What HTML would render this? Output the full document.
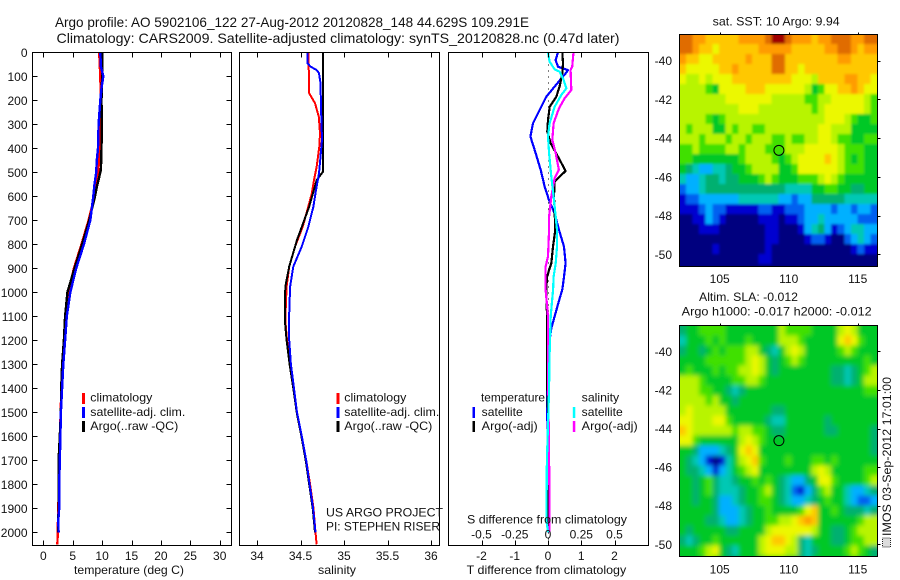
<!DOCTYPE html>
<html>
<head>
<meta charset="utf-8">
<title>Argo profile</title>
<style>
html,body{margin:0;padding:0;background:#fff;}
svg{display:block;}
text{font-family:"Liberation Sans",sans-serif;font-size:12px;fill:#111;}
</style>
</head>
<body>
<svg id="chart" xmlns="http://www.w3.org/2000/svg" width="900" height="580" viewBox="0 0 900 580">
<defs>
<filter id="sst-soften" x="-10%" y="-10%" width="120%" height="120%"><feGaussianBlur stdDeviation="1.2"/></filter>
<filter id="sla-soften" x="-10%" y="-10%" width="120%" height="120%"><feGaussianBlur stdDeviation="2.4"/></filter>
<clipPath id="sst-clip"><rect x="679.5" y="34.5" width="198" height="232"/></clipPath>
<clipPath id="sla-clip"><rect x="679.5" y="325.5" width="198" height="231"/></clipPath>
</defs>
<rect x="0" y="0" width="900" height="580" fill="#fff"/>
<g>
<text x="55" y="27" style="font-size:14px" textLength="474" lengthAdjust="spacingAndGlyphs">Argo profile: AO 5902106_122 27-Aug-2012 20120828_148 44.629S 109.291E</text>
<text x="56.5" y="43" style="font-size:14px" textLength="563" lengthAdjust="spacingAndGlyphs">Climatology: CARS2009. Satellite-adjusted climatology: synTS_20120828.nc (0.47d later)</text>
</g>
<g id="plots"></g>
<g>
<text x="74" y="574" textLength="110" lengthAdjust="spacingAndGlyphs">temperature (deg C)</text>
<text x="318" y="574" textLength="38" lengthAdjust="spacingAndGlyphs">salinity</text>
<text x="466.7" y="574" textLength="159.5" lengthAdjust="spacingAndGlyphs">T difference from climatology</text>
<text x="467" y="523.3" textLength="160" lengthAdjust="spacingAndGlyphs">S difference from climatology</text>
</g>
<g>
<rect x="82" y="393" width="3" height="11" fill="#f00"/>
<text x="90.3" y="401.7" textLength="62" lengthAdjust="spacingAndGlyphs">climatology</text>
<rect x="82" y="407" width="3" height="11" fill="#00f"/>
<text x="90.3" y="416" textLength="95" lengthAdjust="spacingAndGlyphs">satellite-adj. clim.</text>
<rect x="82" y="421" width="3" height="11" fill="#000"/>
<text x="90.3" y="430" textLength="88" lengthAdjust="spacingAndGlyphs">Argo(..raw -QC)</text>
</g>
<g>
<rect x="336.5" y="393" width="3" height="11" fill="#f00"/>
<text x="344.3" y="401.7" textLength="62" lengthAdjust="spacingAndGlyphs">climatology</text>
<rect x="336.5" y="407" width="3" height="11" fill="#00f"/>
<text x="344.3" y="416" textLength="95" lengthAdjust="spacingAndGlyphs">satellite-adj. clim.</text>
<rect x="336.5" y="421" width="3" height="11" fill="#000"/>
<text x="344.3" y="430" textLength="88" lengthAdjust="spacingAndGlyphs">Argo(..raw -QC)</text>
<text x="326" y="516.7" textLength="117" lengthAdjust="spacingAndGlyphs">US ARGO PROJECT</text>
<text x="326" y="530.7" textLength="114" lengthAdjust="spacingAndGlyphs">PI: STEPHEN RISER</text>
</g>
<g>
<text x="481" y="401.7" textLength="64" lengthAdjust="spacingAndGlyphs">temperature</text>
<rect x="472.5" y="407" width="2.5" height="11" fill="#00f"/>
<text x="481.7" y="416" textLength="41" lengthAdjust="spacingAndGlyphs">satellite</text>
<rect x="472.5" y="421" width="2.5" height="11" fill="#000"/>
<text x="481.7" y="430" textLength="56" lengthAdjust="spacingAndGlyphs">Argo(-adj)</text>
<text x="581.7" y="401.7" textLength="37.5" lengthAdjust="spacingAndGlyphs">salinity</text>
<rect x="572.8" y="407" width="2.5" height="11" fill="#0ff"/>
<text x="581.7" y="416" textLength="41" lengthAdjust="spacingAndGlyphs">satellite</text>
<rect x="572.8" y="421" width="2.5" height="11" fill="#f0f"/>
<text x="581.7" y="430" textLength="56" lengthAdjust="spacingAndGlyphs">Argo(-adj)</text>
</g>
<g>
<text x="712.7" y="25.7" textLength="127" lengthAdjust="spacingAndGlyphs">sat. SST: 10 Argo: 9.94</text>
<text x="699" y="301" textLength="99" lengthAdjust="spacingAndGlyphs">Altim. SLA: -0.012</text>
<text x="681.7" y="315.7" textLength="190" lengthAdjust="spacingAndGlyphs">Argo h1000: -0.017 h2000: -0.012</text>
</g>
<g>
<rect x="882.5" y="538" width="8" height="9" fill="#ddd" stroke="#222" stroke-width="1" stroke-dasharray="1 1"/>
<text transform="translate(891 536) rotate(-90)" x="0" y="0" textLength="159" lengthAdjust="spacingAndGlyphs">IMOS 03-Sep-2012 17:01:00</text>
</g>
</svg>
<script>
// ---------- profile data ----------
const tempClimDepth = [0,100,200,300,400,500,550,600,700,800,900,1000,1100,1200,1300,1400,1500,1600,1700,1800,1900,2000,2050];
const tempClimValue = [9.5,9.7,9.8,9.8,9.7,9.3,9.0,8.7,7.7,6.5,5.2,4.3,3.9,3.6,3.3,3.1,2.95,2.85,2.75,2.65,2.55,2.45,2.4];
const tempArgoDepth = [0,100,200,300,400,490,520,550,600,700,800,900,1000,1100,1200,1300,1400,1500,1600,1700,1800,1900,2000];
const tempArgoValue = [10,10,9.9,9.95,9.9,9.8,9.5,9.2,8.8,7.8,6.6,5.3,4.1,3.7,3.5,3.2,3.05,3.0,2.8,2.6,2.65,2.6,2.5];
const tempSatDepth = [0,60,100,150,200,300,400,450,500,550,600,700,800,900,1000,1100,1200,1300,1400,1500,1600,1700,1800,1900,1950,2000];
const tempSatValue = [9.7,9.8,10.2,9.9,9.7,9.4,9.3,9.1,9.0,8.7,8.5,8.0,6.9,5.6,4.6,4.0,3.7,3.4,3.2,3.0,2.9,2.8,2.7,2.7,2.55,2.6];

const salClimDepth = [0,60,87,171,212,268,337,393,476,532,588,643,727,810,893,977,1115,1200,1300,1400,1500,1600,1700,1800,1900,2000,2050];
const salClimValue = [34.59,34.59,34.6,34.6,34.667,34.71,34.724,34.716,34.686,34.655,34.63,34.59,34.525,34.437,34.37,34.34,34.325,34.345,34.38,34.42,34.46,34.515,34.565,34.61,34.65,34.672,34.685];
const salArgoDepth = [0,497,532,643,782,893,977,1115,1200,1300,1400,1500,1600,1700,1800,1900,2000];
const salArgoValue = [34.76,34.76,34.686,34.6,34.46,34.37,34.325,34.32,34.34,34.375,34.417,34.456,34.51,34.56,34.6,34.64,34.667];
const salSatDepth = [0,46,60,74,87,129,227,365,435,504,574,643,727,810,893,977,1115,1200,1300,1400,1500,1600,1700,1800,1900,2000];
const salSatValue = [34.58,34.58,34.617,34.686,34.713,34.73,34.736,34.747,34.73,34.713,34.678,34.648,34.59,34.514,34.417,34.38,34.368,34.37,34.39,34.425,34.46,34.515,34.565,34.605,34.645,34.672];

const diffTSatDepth = [0,32,60,74,88,109,143,185,254,296,351,421,490,560,616,671,740,810,879,949,988,1050,1150,1250,1400,1500,1600,1800,2000];
const diffTSatValue = [0.3,0.23,0.3,0.6,0.53,0.4,0.2,-0.05,-0.3,-0.45,-0.53,-0.37,-0.22,-0.1,0.03,0.2,0.33,0.48,0.53,0.47,0.43,0.3,0.1,0,-0.03,-0.03,0,0.02,0.02];
const diffTArgoDepth = [0,46,88,143,185,227,282,331,379,435,494,539,601,657,740,810,879,935,988,1100,1200,1300,1400,1500,1700,2000];
const diffTArgoValue = [0.43,0.45,0.43,0.35,0.25,0.05,0,-0.02,0.08,0.3,0.53,0.2,0.18,0.2,0.22,0.15,0.1,-0.03,-0.05,-0.03,-0.03,-0.03,-0.02,0,0.02,0.02];
const diffSSatDepth = [0,39,71,81,116,150,178,227,296,351,421,518,601,685,740,810,879,935,988,1100,1300,1400,1700,1950,2000];
const diffSSatValue = [0,0.012,0.05,0.088,0.118,0.138,0.1,0.05,0.012,0,0.008,0.025,0.042,0.058,0.068,0.068,0.058,0.042,0.038,0.02,0.01,0.008,-0.008,-0.012,0];
const diffSArgoDepth = [0,60,74,157,192,234,296,365,421,490,525,601,685,740,851,893,988,1100,1300,1700,1900,2000];
const diffSArgoValue = [0.192,0.182,0.17,0.175,0.125,0.082,0.042,0.032,0.058,0.082,0.05,0.025,0.008,0.008,0,-0.018,-0.018,0,0,0.008,0.012,0.012];

// ---------- tick labels ----------
const depthTicks = [0,100,200,300,400,500,600,700,800,900,1000,1100,1200,1300,1400,1500,1600,1700,1800,1900,2000];
const tempTicks = [0,5,10,15,20,25,30];
const salTicks = [34,34.5,35,35.5,36];
const diffTTicks = [-2,-1,0,1,2];
const diffSTicks = [-0.5,-0.25,0,0.25,0.5];
const lonTicks = [105,110,115];
const latTicks = [-40,-42,-44,-46,-48,-50];
const argoLon = [109.291];
const argoLat = [-44.629];

// ---------- map colour classes ----------
const colourClasses = ['#00007f','#0000d0','#0060f0','#00b0ff','#00c8b4','#00b070','#00c828','#40e000','#b8f400','#ecf800','#ffc800','#ff9c00','#e06c00','#a00000'];
const sstGrid = [
[12,12,11,11,10,10,10,10,10,11,11,11,11,12,13,13,12,11,11,11,10,11,11,12,12,12,11,11,12,12],
[12,12,11,10,10,9,10,10,10,10,10,10,11,11,11,11,11,10,10,10,10,10,11,11,12,12,11,10,11,11],
[11,10,10,9,9,10,10,10,10,10,11,10,10,10,12,12,10,10,10,10,10,10,10,10,11,11,10,10,10,10],
[10,9,9,9,9,9,10,10,11,10,10,10,10,10,12,12,10,10,9,10,10,10,10,10,10,10,10,10,10,10],
[9,8,8,9,8,9,9,9,10,10,10,10,10,10,10,10,10,9,9,9,8,10,10,10,10,11,11,10,10,9],
[8,8,8,8,7,6,9,9,9,9,10,10,10,9,9,9,9,9,9,8,6,7,9,9,10,10,11,10,9,9],
[8,8,8,8,8,8,8,9,9,9,9,9,9,9,8,8,8,8,8,7,7,8,8,9,9,9,9,9,8,7],
[8,8,8,8,8,8,8,8,8,9,9,9,8,8,8,8,8,8,8,8,7,8,9,9,9,9,9,9,8,7],
[8,8,8,8,7,6,7,8,8,8,8,8,8,8,8,8,8,8,8,8,8,8,9,9,9,8,7,6,6,7],
[8,7,8,8,8,6,6,8,7,8,8,7,7,8,8,8,8,8,8,8,8,9,9,8,8,8,6,6,6,6],
[8,8,8,7,8,8,8,7,8,8,7,8,8,8,7,7,8,7,7,8,8,9,9,8,7,7,6,6,7,7],
[7,7,8,7,7,7,7,8,8,7,8,8,8,7,7,7,8,8,8,9,9,9,9,9,8,7,7,7,6,6],
[7,7,6,6,6,6,6,6,6,7,8,8,8,8,7,6,7,8,9,9,9,9,10,9,8,7,6,7,6,6],
[6,5,4,3,3,4,4,5,6,6,7,8,8,8,8,6,6,7,9,9,9,9,9,9,8,7,7,7,6,6],
[4,3,3,4,5,5,4,5,5,6,6,6,7,8,7,6,6,6,7,7,7,8,9,8,7,6,6,6,6,6],
[2,3,3,4,5,5,5,5,5,5,5,5,5,5,5,5,4,4,4,4,6,6,7,7,6,6,5,5,6,6],
[1,2,2,3,3,3,3,3,3,4,4,4,4,4,4,3,3,2,3,3,5,5,5,5,5,4,4,4,4,4],
[1,1,1,2,3,2,2,1,1,1,1,1,2,2,1,1,2,2,2,3,3,3,3,2,3,3,2,3,3,2],
[0,0,1,1,3,2,1,0,0,0,0,0,1,1,1,0,1,1,2,3,3,4,3,3,3,3,3,2,2,2],
[0,0,0,1,1,1,0,0,0,0,0,0,0,1,1,0,0,0,1,3,4,5,3,1,2,3,4,4,3,3],
[0,0,0,0,0,0,0,0,0,0,0,0,0,1,1,0,0,0,0,1,2,2,1,0,0,2,3,4,3,2],
[0,0,0,0,0,1,0,0,0,0,0,0,0,1,0,0,0,0,0,0,0,0,0,0,0,0,1,2,1,1],
[0,0,0,0,0,0,0,0,0,0,0,0,1,1,0,0,0,0,0,0,0,0,0,0,0,0,0,0,0,0],
[0,0,0,0,0,0,0,0,0,0,0,0,0,0,0,0,0,0,0,0,0,0,0,0,0,0,0,0,0,0]
];
const slaGrid = [
[5,6,6,7,7,7,7,6,6,6,6,6,6,6,6,8,7,7,7,7,6,6,6,6,8,9,8,6,6,6],
[4,6,6,6,7,6,7,6,6,6,7,6,6,6,6,8,8,8,7,6,6,6,6,6,9,10,9,7,6,6],
[5,6,6,5,6,7,6,7,7,7,8,8,6,5,4,6,8,9,8,6,6,6,6,6,7,8,7,6,6,6],
[6,6,6,6,7,7,7,7,7,7,8,9,8,6,5,6,7,8,7,6,6,6,6,6,6,6,6,6,7,6],
[6,7,6,6,6,7,6,7,7,8,8,9,8,6,5,6,6,6,6,6,6,6,6,5,5,4,5,6,7,8],
[8,8,8,7,6,6,6,6,7,7,8,8,7,6,6,6,6,6,6,6,6,6,6,5,5,4,5,6,8,8],
[8,8,8,7,7,6,6,5,4,5,6,6,6,6,6,6,6,6,6,6,6,6,6,6,6,6,6,6,7,7],
[8,8,8,8,7,8,6,6,5,6,6,6,6,6,6,6,6,6,6,6,6,6,6,6,6,6,6,6,6,6],
[8,9,8,8,8,8,8,6,6,6,6,6,6,6,5,5,6,6,6,6,6,6,6,6,6,6,6,6,6,6],
[9,9,8,8,8,9,9,7,6,6,6,6,6,5,4,4,6,6,6,6,6,6,5,6,6,6,6,6,6,6],
[10,9,8,8,8,8,8,8,7,8,8,7,7,6,5,5,6,6,6,6,6,6,5,5,6,6,6,6,6,5],
[9,9,7,6,6,6,6,6,6,8,9,8,7,6,6,6,6,6,6,6,6,6,6,6,6,6,6,6,6,5],
[6,6,5,3,3,3,4,5,6,9,10,9,6,6,6,6,6,6,6,6,6,6,6,6,6,6,6,6,6,5],
[6,5,4,3,1,0,1,4,6,8,9,10,7,6,6,6,7,6,6,6,7,7,6,7,6,6,6,6,6,6],
[6,5,5,4,3,1,3,4,6,7,8,9,6,6,6,6,6,6,6,6,8,9,8,6,6,6,6,6,7,7],
[6,6,5,6,7,5,4,4,5,6,6,7,6,7,6,5,4,3,3,5,6,9,9,7,6,6,6,6,7,8],
[6,6,5,6,7,5,4,4,4,5,6,6,7,8,6,5,4,2,1,3,5,7,8,6,6,4,3,3,4,5],
[6,6,5,6,6,5,3,3,4,5,6,6,7,7,6,5,4,3,3,4,5,6,7,6,6,4,3,2,2,3],
[6,6,6,6,6,5,3,3,3,4,5,6,6,7,6,6,6,6,7,9,10,6,6,7,6,5,5,5,4,5],
[6,6,6,6,5,5,4,3,3,4,5,6,6,7,7,8,8,9,10,11,10,6,6,6,6,6,6,7,8,8],
[6,5,6,6,6,6,6,5,5,6,6,6,6,8,9,9,9,9,9,9,8,6,6,5,5,6,7,8,8,8],
[5,4,5,6,6,7,6,6,6,6,6,6,8,9,10,10,9,8,5,4,6,6,6,5,5,6,7,7,8,8],
[6,6,6,7,8,9,6,5,4,6,6,6,8,9,9,9,8,8,5,4,5,6,6,6,6,7,8,7,6,5],
[6,6,6,6,8,7,6,5,5,6,6,6,6,7,7,7,6,6,5,4,6,6,6,6,6,6,7,6,6,5]
];

// ---------- helpers ----------
const NS = 'http://www.w3.org/2000/svg';
const root = document.getElementById('plots');
function make(tag, name, attrs, parent) {
  const el = document.createElementNS(NS, tag);
  
  
  for (const k in attrs) el.setAttribute(k, attrs[k]);
  (parent || root).appendChild(el);
  return el;
}
function label(name, str, x, y, anchor, parent) {
  const t = make('text', name, {x: x, y: y, 'text-anchor': anchor}, parent);
  t.textContent = str;
  return t;
}
function group(name) { return make('g', name, {}); }
const TOP = 52.5, BOTTOM = 545.5;
const depthY = d => 52.3 + 0.24 * d;
const tempX = v => 43.3 + 5.88 * v;
const salX = v => 257 + 87 * (v - 34);
const diffTX = v => 548 + 33.25 * v;
const diffSX = v => 548 + 133 * v;

function frame(g, name, left, right) {
  make('rect', name, {x: left, y: TOP, width: right - left, height: BOTTOM - TOP, fill: 'none', stroke: '#000', 'stroke-width': 1, 'shape-rendering': 'crispEdges'}, g);
}
function xTicks(g, ticks, scale) {
  ticks.forEach(v => {
    const x = Math.round(scale(v)) + 0.5;
    make('line', 'x-tick-top', {x1: x, x2: x, y1: TOP, y2: TOP + 5, stroke: '#000', 'shape-rendering': 'crispEdges'}, g);
    make('line', 'x-tick-bottom', {x1: x, x2: x, y1: BOTTOM, y2: BOTTOM - 5, stroke: '#000', 'shape-rendering': 'crispEdges'}, g);
    label('x-tick-label', String(v), scale(v), 560, 'middle', g);
  });
}
function series(g, name, xs, ys, scale, colour, w) {
  const pts = xs.map((v, i) => scale(v).toFixed(1) + ',' + depthY(ys[i]).toFixed(1)).join(' ');
  make('polyline', name, {points: pts, fill: 'none', stroke: colour, 'stroke-width': w, 'shape-rendering': 'crispEdges', 'stroke-linejoin': 'round'}, g);
}

// ---------- temperature panel ----------
const p1 = group('temperature-panel');
series(p1, 'temperature-climatology-line', tempClimValue, tempClimDepth, tempX, '#f00', 2.4);
series(p1, 'temperature-argo-line', tempArgoValue, tempArgoDepth, tempX, '#000', 2.4);
series(p1, 'temperature-satellite-line', tempSatValue, tempSatDepth, tempX, '#00f', 2.4);
frame(p1, 'temperature-plot-frame', 32.5, 231.5);
xTicks(p1, tempTicks, tempX);
depthTicks.forEach(d => {
  const y = Math.round(depthY(d)) + 0.5;
  make('line', 'depth-tick-left', {x1: 32.5, x2: 37.5, y1: y, y2: y, stroke: '#000', 'shape-rendering': 'crispEdges'}, p1);
  make('line', 'depth-tick-right', {x1: 231.5, x2: 226.5, y1: y, y2: y, stroke: '#000', 'shape-rendering': 'crispEdges'}, p1);
  label('depth-tick-label', String(d), 27.5, depthY(d) + 4.5, 'end', p1);
});

// ---------- salinity panel ----------
const p2 = group('salinity-panel');
series(p2, 'salinity-climatology-line', salClimValue, salClimDepth, salX, '#f00', 2);
series(p2, 'salinity-argo-line', salArgoValue, salArgoDepth, salX, '#000', 2);
series(p2, 'salinity-satellite-line', salSatValue, salSatDepth, salX, '#00f', 2);
frame(p2, 'salinity-plot-frame', 239.5, 439.5);
xTicks(p2, salTicks, salX);

// ---------- difference panel ----------
const p3 = group('difference-panel');
make('line', 'zero-difference-line', {x1: diffTX(0) + 0.5, x2: diffTX(0) + 0.5, y1: depthY(0), y2: depthY(2050), stroke: '#000', 'stroke-dasharray': '1 5', 'shape-rendering': 'crispEdges'}, p3);
series(p3, 'difference-t-satellite-line', diffTSatValue, diffTSatDepth, diffTX, '#00f', 2.2);
series(p3, 'difference-t-argo-line', diffTArgoValue, diffTArgoDepth, diffTX, '#000', 2.2);
series(p3, 'difference-s-argo-line', diffSArgoValue, diffSArgoDepth, diffSX, '#f0f', 2.2);
series(p3, 'difference-s-satellite-line', diffSSatValue, diffSSatDepth, diffSX, '#0ff', 2.2);
frame(p3, 'difference-plot-frame', 448.5, 648.5);
xTicks(p3, diffTTicks, diffTX);
diffSTicks.forEach(v => {
  label('s-difference-tick-label', String(v), diffSX(v), 538.3, 'middle', p3);
});

// ---------- maps ----------
function drawMap(name, grid, box, lonOf, latOf, lonMin, lonMax, latMax, latMin, labelY, clipId, filterId) {
  const g = group(name);
  const clip = make('g', 'map-image-clip', {'clip-path': 'url(#' + clipId + ')'}, g);
  const cells = make('g', 'map-cells', {filter: 'url(#' + filterId + ')'}, clip);
  const rows = grid.length;
  const cols = grid[0].length;
  const dLon = (lonMax - lonMin) / cols;
  const dLat = (latMax - latMin) / rows;
  const bleed = 14;
  grid.forEach((row, r) => {
    row.forEach((v, c) => {
      let x0 = lonOf(lonMin + c * dLon);
      let x1 = lonOf(lonMin + (c + 1) * dLon);
      let y0 = latOf(latMax - r * dLat);
      let y1 = latOf(latMax - (r + 1) * dLat);
      if (c === 0) x0 -= bleed;
      if (c === cols - 1) x1 += bleed;
      if (r === 0) y0 -= bleed;
      if (r === rows - 1) y1 += bleed;
      make('rect', 'map-cell', {x: x0.toFixed(2), y: y0.toFixed(2), width: (x1 - x0).toFixed(2), height: (y1 - y0).toFixed(2), fill: colourClasses[Math.max(0, Math.min(colourClasses.length - 1, Math.round(v)))], 'shape-rendering': 'crispEdges'}, cells);
    });
  });
  make('rect', 'map-frame', {x: box.x, y: box.y, width: box.w, height: box.h, fill: 'none', stroke: '#000', 'shape-rendering': 'crispEdges'}, g);
  lonTicks.forEach(v => {
    const x = Math.round(lonOf(v)) + 0.5;
    make('line', 'longitude-tick', {x1: x, x2: x, y1: box.y, y2: box.y - 2, stroke: '#000', 'shape-rendering': 'crispEdges'}, g);
    label('longitude-tick-label', String(v), lonOf(v), labelY, 'middle', g);
  });
  latTicks.forEach(v => {
    const y = Math.round(latOf(v)) + 0.5;
    make('line', 'latitude-tick', {x1: box.x + box.w, x2: box.x + box.w + 3, y1: y, y2: y, stroke: '#000', 'shape-rendering': 'crispEdges'}, g);
    label('latitude-tick-label', String(v), 672, latOf(v) + 4.5, 'end', g);
  });
  make('circle', 'argo-profile-marker', {cx: lonOf(argoLon[0]), cy: latOf(argoLat[0]), r: 5, fill: 'none', stroke: '#000', 'stroke-width': 1}, g);
}
drawMap('sst-map', sstGrid, {x: 679.5, y: 34.5, w: 198, h: 232},
  v => 719.7 + 13.8 * (v - 105), v => 60.7 + 19.36 * (-40 - v), 102.07, 116.42, -38.62, -51.02, 283, 'sst-clip', 'sst-soften');
drawMap('sla-map', slaGrid, {x: 679.5, y: 325.5, w: 198, h: 231},
  v => 719.7 + 13.8 * (v - 105), v => 351.3 + 19.3 * (-40 - v), 102.07, 116.42, -38.67, -51.1, 573.3, 'sla-clip', 'sla-soften');
</script>
</body>
</html>
